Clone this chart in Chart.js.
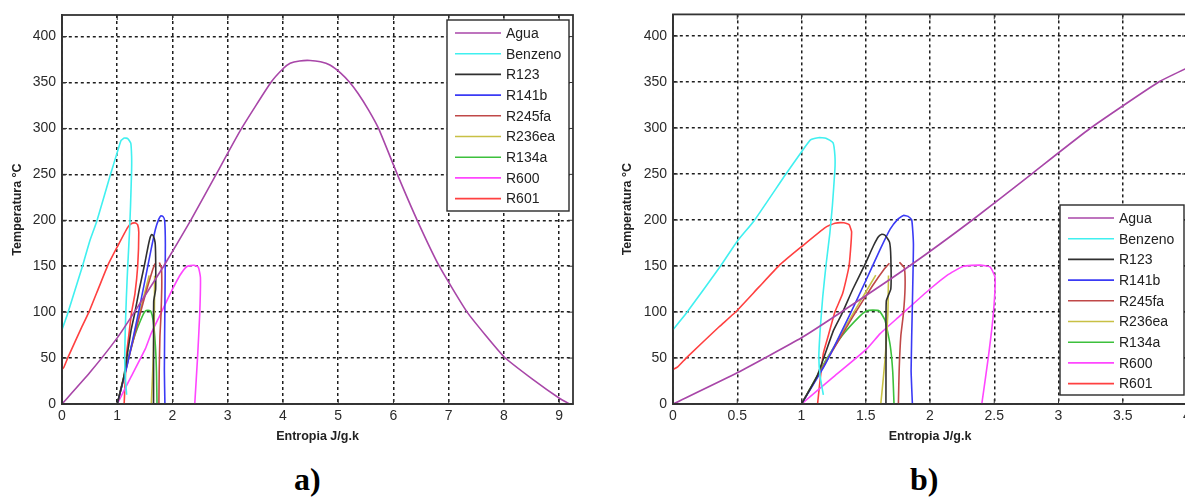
<!DOCTYPE html>
<html>
<head>
<meta charset="utf-8">
<script src="https://cdn.jsdelivr.net/npm/chart.js@4.4.1/dist/chart.umd.min.js"></script>
<style>
html, body { margin: 0; padding: 0; background: #fff; overflow: hidden; width: 1185px; height: 501px; }
#wrap-a { position: absolute; left: 0; top: 0; width: 590px; height: 450px; }
#wrap-b { position: absolute; left: 600px; top: 0; width: 610px; height: 450px; }
.lbl { position: absolute; font: bold 32px "Liberation Serif", "Times New Roman", serif; line-height: 32px; color: #000; }
</style>
</head>
<body>
<div id="wrap-a"><canvas id="chart-a"></canvas></div>
<div id="wrap-b"><canvas id="chart-b"></canvas></div>
<div class="lbl" style="left:294px;top:463px">a)</div>
<div class="lbl" style="left:910px;top:463px">b)</div>
<script>
// saturation curves, [entropia, temperatura]
let agua = [[0, 0], [0.5, 34], [1.0, 72], [1.31, 100], [1.84, 150], [2.33, 200], [2.79, 250], [3.25, 300],
    [3.78, 350], [4.0, 365], [4.13, 371], [4.3, 373.5], [4.49, 374], [4.68, 372.5], [4.85, 369], [5.05, 360],
    [5.21, 350], [5.36, 338], [5.55, 320], [5.73, 300], [6.07, 250], [6.43, 200], [6.83, 150], [7.34, 99.5],
    [8.0, 51.5], [8.54, 26], [9.01, 6], [9.19, 0]]
let benzeno = [[0, 80.8], [0.1, 98], [0.37, 150], [0.5, 177], [0.63, 199], [0.876, 249.5], [1.005, 275],
    [1.07, 287], [1.13, 289.5], [1.19, 289], [1.245, 284], [1.26, 270], [1.26, 255], [1.24, 215], [1.22, 185],
    [1.19, 150], [1.165, 116], [1.145, 80], [1.135, 51], [1.145, 30], [1.17, 10]]
let r123 = [[1.0, 0], [1.12, 30], [1.249, 80], [1.314, 98], [1.40, 125], [1.495, 152], [1.56, 172], [1.60, 182],
    [1.625, 184.5], [1.65, 183.5], [1.685, 176], [1.695, 160], [1.695, 125], [1.66, 112], [1.658, 60], [1.657, 0]]
let r141b = [[1.0, 0], [1.18, 42], [1.379, 98], [1.50, 134], [1.612, 168], [1.69, 190], [1.75, 201], [1.793, 205],
    [1.83, 204], [1.858, 200], [1.871, 174], [1.863, 109], [1.853, 37], [1.863, 0]]
let r245fa = [[1.0, 0], [1.2, 48], [1.4, 95], [1.55, 128], [1.64, 146], [1.684, 153], [1.72, null],
    [1.762, 154], [1.80, 148], [1.806, 127], [1.793, 98], [1.773, 74], [1.76, 37], [1.754, 0]]
let r236ea = [[1.0, 0], [1.15, 36], [1.3, 74], [1.45, 110], [1.578, 140], [1.63, null],
    [1.677, 139.6], [1.672, 98], [1.651, 49.5], [1.617, 0]]
let r134a = [[1.0, 0], [1.1, 25], [1.2, 50], [1.32, 75], [1.45, 95], [1.505, 101], [1.555, 102], [1.606, 101],
    [1.65, 91], [1.69, 64], [1.71, 35], [1.72, 0]]
let r600 = [[1.0, 0], [1.249, 29.5], [1.508, 60], [1.612, 76.5], [1.768, 96], [1.871, 109], [2.0, 125], [2.13, 139.6],
    [2.26, 149.7], [2.39, 151], [2.467, 149], [2.506, 137.8], [2.493, 98], [2.454, 51], [2.403, 0]]
let r601 = [[0, 37.5], [0.034, 40], [0.11, 51], [0.357, 83.7], [0.487, 100], [0.668, 127], [0.837, 152], [1.0, 171],
    [1.187, 192], [1.26, 196.5], [1.33, 197], [1.37, 195], [1.39, 187], [1.37, 150], [1.32, 120], [1.26, 100],
    [1.21, 75], [1.17, 55], [1.14, 20], [1.125, 0]]

let fluid_names = ["Agua", "Benzeno", "R123", "R141b", "R245fa", "R236ea", "R134a", "R600", "R601"]
let fluid_data = [agua, benzeno, r123, r141b, r245fa, r236ea, r134a, r600, r601]
let fluid_colors = ["#a846a8", "#40f0f0", "#303030", "#3a3af5", "#c04848", "#c8c044", "#3cc03c", "#ff46ff", "#ff4040"]

let x_max_a = 9.25
let x_step_a = 1
let x_max_b = 4
let x_step_b = 0.5
let y_max = 423.5
let y_step = 50

let x_title = "Entropia J/g.k"
let y_title = "Temperatura °C"

// legend box + full frame with inward ticks, like the matlab figure
const frame_plugin = {
    id: "frame",
    afterDatasetsDraw(chart, args, opts) {
        let ctx = chart.ctx
        let ca = chart.chartArea
        ctx.save()
        ctx.strokeStyle = "#333"
        ctx.lineWidth = 1.8
        ctx.strokeRect(ca.left, ca.top, ca.right - ca.left, ca.bottom - ca.top)

        ctx.lineWidth = 1
        ctx.beginPath()
        chart.scales.x.ticks.forEach(t => {
            let px = chart.scales.x.getPixelForValue(t.value)
            ctx.moveTo(px, ca.bottom); ctx.lineTo(px, ca.bottom - 5)
            ctx.moveTo(px, ca.top); ctx.lineTo(px, ca.top + 5)
        })
        chart.scales.y.ticks.forEach(t => {
            let py = chart.scales.y.getPixelForValue(t.value)
            ctx.moveTo(ca.left, py); ctx.lineTo(ca.left + 5, py)
            ctx.moveTo(ca.right, py); ctx.lineTo(ca.right - 5, py)
        })
        ctx.stroke()

        // legend
        let lx = opts.x, ly = opts.y
        ctx.fillStyle = "#fff"
        ctx.fillRect(lx, ly, opts.w, opts.h)
        ctx.strokeStyle = "#2a2a2a"
        ctx.lineWidth = 1.4
        ctx.strokeRect(lx, ly, opts.w, opts.h)
        ctx.font = "14px 'Liberation Sans', Arial, sans-serif"
        ctx.textBaseline = "middle"
        chart.data.datasets.forEach((ds, i) => {
            let cy = ly + 13 + i * 20.7
            ctx.strokeStyle = ds.borderColor
            ctx.lineWidth = 1.6
            ctx.beginPath()
            ctx.moveTo(lx + 8, cy); ctx.lineTo(lx + 54, cy)
            ctx.stroke()
            ctx.fillStyle = "#222"
            ctx.fillText(ds.label, lx + 59, cy + 1)
        })
        ctx.restore()
    }
}

function make_chart(id, x_max, x_step, y_axis_w, pad, y_title_pad, legend_pos) {
    let datasets = []
    for (let i = 0; i < fluid_names.length; i++) {
        datasets.push({
            label: fluid_names[i],
            data: fluid_data[i],
            borderColor: fluid_colors[i],
            backgroundColor: fluid_colors[i],
            borderWidth: 1.6,
            pointRadius: 0,
            showLine: true,
            tension: 0.15,
            spanGaps: false
        })
    }

    let tick_font = {family: "'Liberation Sans', Arial, sans-serif", size: 14}
    let title_font = {family: "'Liberation Sans', Arial, sans-serif", size: 12.5, weight: "bold"}

    return new Chart(id, {
        type: "scatter",
        data: {datasets: datasets},
        options: {
            responsive: true,
            maintainAspectRatio: false,
            animation: false,
            layout: {padding: pad},
            plugins: {
                legend: {display: false},
                tooltip: {enabled: false},
                frame: legend_pos
            },
            scales: {
                x: {
                    type: "linear",
                    min: 0,
                    max: x_max,
                    afterFit: s => { s.height = 40 },
                    ticks: {stepSize: x_step, includeBounds: false, autoSkip: false, maxRotation: 0,
                        padding: 4, color: "#2b2b2b", font: tick_font, callback: v => String(v)},
                    grid: {color: "#1e1e1e", lineWidth: 1.5, drawTicks: false},
                    border: {display: true, color: "#333", width: 1.8, dash: [3, 3]},
                    title: {display: true, text: x_title, color: "#222", font: title_font, padding: {top: 0, bottom: 0}}
                },
                y: {
                    type: "linear",
                    min: 0,
                    max: y_max,
                    afterFit: s => { s.width = y_axis_w },
                    ticks: {stepSize: y_step, includeBounds: false, autoSkip: false,
                        padding: 6, color: "#2b2b2b", font: tick_font, callback: v => String(v)},
                    grid: {color: "#1e1e1e", lineWidth: 1.5, drawTicks: false},
                    border: {display: true, color: "#333", width: 1.8, dash: [3, 3]},
                    title: {display: true, text: y_title, color: "#222", font: title_font, padding: {top: y_title_pad, bottom: 0}}
                }
            }
        },
        plugins: [frame_plugin]
    })
}

make_chart("chart-a", x_max_a, x_step_a, 62, {left: 0, top: 15, right: 17, bottom: 6}, 10.5,
    {x: 447, y: 20, w: 122, h: 191})
make_chart("chart-b", x_max_b, x_step_b, 73, {left: 0, top: 13, right: 23, bottom: 6}, 20.5,
    {x: 460, y: 205, w: 124, h: 190})
</script>
</body>
</html>
